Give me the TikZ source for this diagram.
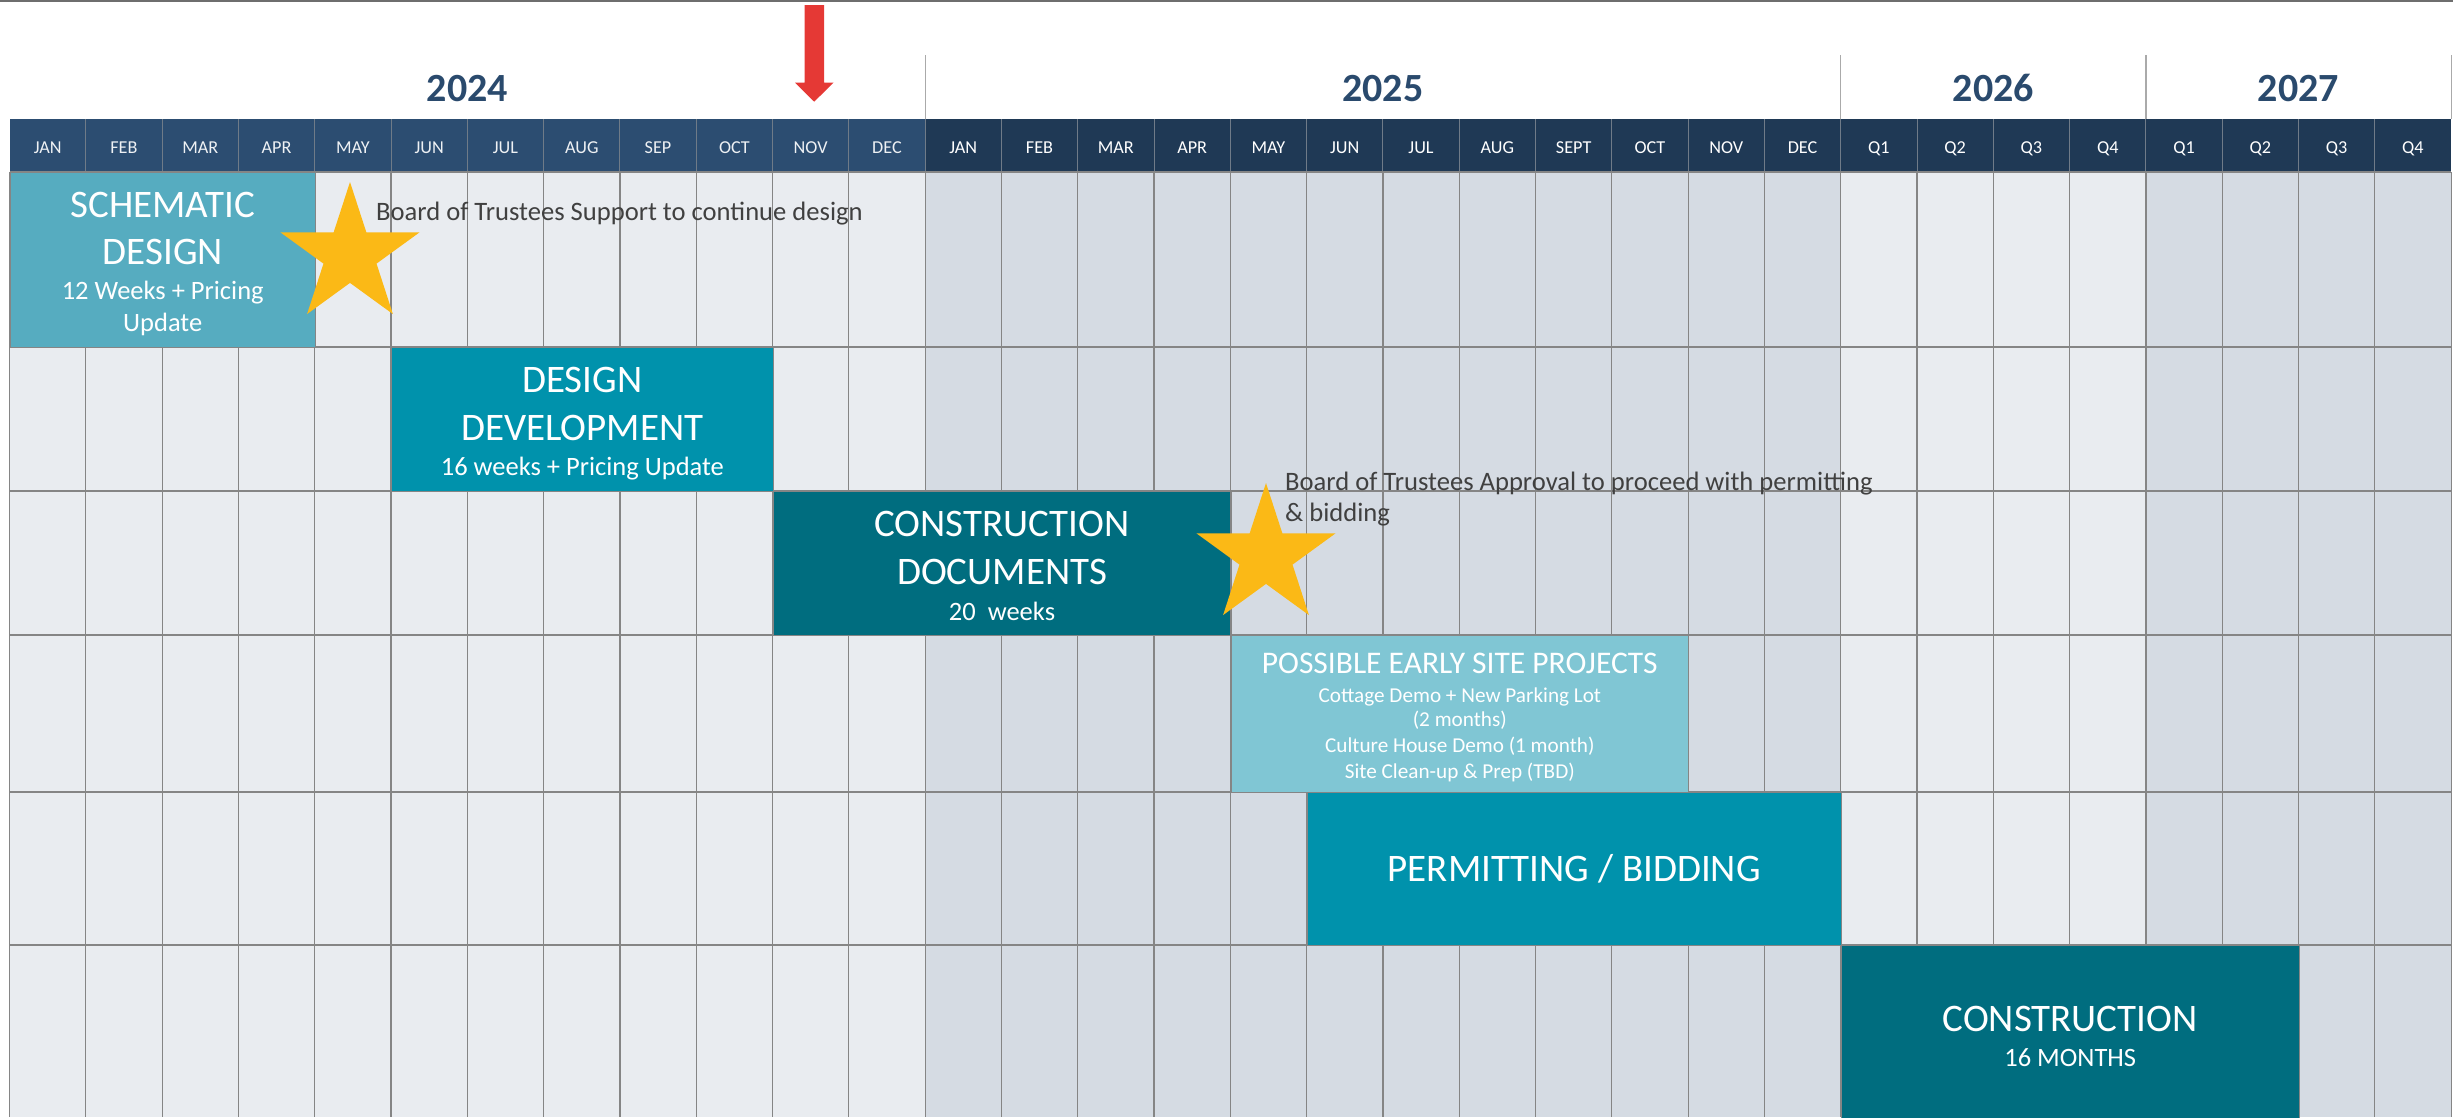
\documentclass[tikz,border=0pt]{standalone}
\usepackage{fontspec}
\setmainfont{Carlito}
\usetikzlibrary{shapes.geometric}

\definecolor{hdrA}{HTML}{2C4D71}
\definecolor{hdrB}{HTML}{1F3955}
\definecolor{cellA}{HTML}{E9ECF0}
\definecolor{cellB}{HTML}{D5DBE3}
\definecolor{gridc}{HTML}{858585}
\definecolor{hdrline}{HTML}{6F7B88}
\definecolor{yearc}{HTML}{2A4A6D}
\definecolor{barSD}{HTML}{56ACC0}
\definecolor{barDD}{HTML}{0092AC}
\definecolor{barCD}{HTML}{006D7F}
\definecolor{barES}{HTML}{80C6D4}
\definecolor{starc}{HTML}{FBB916}
\definecolor{arrowc}{HTML}{E53935}
\definecolor{notec}{HTML}{404040}
\definecolor{topc}{HTML}{6E6E6E}

\begin{document}
\begin{tikzpicture}[x=1pt,y=-1pt,
  bar/.style={rectangle, draw=gridc, line width=1.2pt, inner sep=0pt, anchor=north west},
  bigtxt/.style={text=white, anchor=base, inner sep=0pt, font=\fontsize{39}{46}\selectfont},
  subtxt/.style={text=white, anchor=base, inner sep=0pt, font=\fontsize{26.5}{32}\selectfont},
  esttl/.style={text=white, anchor=base, inner sep=0pt, font=\fontsize{31.5}{36}\selectfont},
  essub/.style={text=white, anchor=base, inner sep=0pt, font=\fontsize{21.2}{25}\selectfont},
  monthtxt/.style={text=white, anchor=base, inner sep=0pt, font=\fontsize{18.2}{22}\selectfont},
  yeartxt/.style={text=yearc, anchor=base, inner sep=0pt, font=\fontsize{40}{46}\selectfont\bfseries},
  notetxt/.style={text=notec, anchor=base west, inner sep=0pt, font=\fontsize{26.6}{32}\selectfont},
  starmark/.style={star, star points=5, star point ratio=2.618, minimum size=146pt, inner sep=0pt, fill=starc, draw=none},
  gridline/.style={draw=gridc, line width=1.2pt},
  rowline/.style={draw=gridc, line width=1.6pt},
  hdrsep/.style={draw=hdrline, line width=1pt},
  yearsep/.style={draw=gridc!70, line width=1.2pt}
]
\useasboundingbox (0,0) rectangle (2453,1117);
\def\xo{9.5}
\def\cw{76.3}

% body cells, shaded per year
\fill[cellA] (\xo,172) rectangle ({\xo+12*\cw},1117);
\fill[cellB] ({\xo+12*\cw},172) rectangle ({\xo+24*\cw},1117);
\fill[cellA] ({\xo+24*\cw},172) rectangle ({\xo+28*\cw},1117);
\fill[cellB] ({\xo+28*\cw},172) rectangle ({\xo+32*\cw},1117);

% grid
\foreach \i in {0,...,32} \draw[gridline] ({\xo+\i*\cw},172) -- ({\xo+\i*\cw},1117);
\foreach \y in {347,491,635,792,945} \draw[rowline] (\xo,\y) -- ({\xo+32*\cw},\y);

% header band
\fill[hdrA] (\xo,119) rectangle ({\xo+12*\cw},172);
\fill[hdrB] ({\xo+12*\cw},119) rectangle ({\xo+32*\cw},172);
\foreach \i in {1,...,31} \draw[hdrsep] ({\xo+\i*\cw},119) -- ({\xo+\i*\cw},172);
\draw[rowline] (\xo,172) -- ({\xo+32*\cw},172);

\foreach \m [count=\i from 0] in {JAN,FEB,MAR,APR,MAY,JUN,JUL,AUG,SEP,OCT,NOV,DEC}
  \node[monthtxt, text=white!92!hdrA] (ma\i) at ({\xo+(\i+0.5)*\cw},153.3) {\m};
\foreach \m [count=\i from 12] in {JAN,FEB,MAR,APR,MAY,JUN,JUL,AUG,SEPT,OCT,NOV,DEC,Q1,Q2,Q3,Q4,Q1,Q2,Q3,Q4}
  \node[monthtxt] (mb\i) at ({\xo+(\i+0.5)*\cw},153.3) {\m};

% year captions
\foreach \i in {12,24,28,32} \draw[yearsep] ({\xo+\i*\cw},55) -- ({\xo+\i*\cw},119);
\node[yeartxt] (y2024) at ({\xo+6*\cw},101) {2024};
\node[yeartxt] (y2025) at ({\xo+18*\cw},101) {2025};
\node[yeartxt] (y2026) at ({\xo+26*\cw},101) {2026};
\node[yeartxt] (y2027) at ({\xo+30*\cw},101) {2027};

% phase bars
\node[bar, fill=barSD, minimum width={4*\cw*1pt}, minimum height=175pt] (sd) at (\xo,172) {};
\node[bar, fill=barDD, minimum width={5*\cw*1pt}, minimum height=144pt] (dd) at ({\xo+5*\cw},347) {};
\node[bar, fill=barCD, minimum width={6*\cw*1pt}, minimum height=144pt] (cd) at ({\xo+10*\cw},491) {};
\node[bar, fill=barES, minimum width={6*\cw*1pt}, minimum height=157pt] (es) at ({\xo+16*\cw},635) {};
\node[bar, fill=barDD, minimum width={7*\cw*1pt}, minimum height=153pt] (pb) at ({\xo+17*\cw},792) {};
\node[bar, fill=barCD, minimum width={6*\cw*1pt}, minimum height=190pt] (co) at ({\xo+24*\cw},945) {};

% bar captions
\node[bigtxt] (sd1) at (sd.north |- 0,217) {SCHEMATIC};
\node[bigtxt] (sd2) at (sd.north |- 0,264) {DESIGN};
\node[subtxt] (sd3) at (sd.north |- 0,299) {12 Weeks + Pricing};
\node[subtxt] (sd4) at (sd.north |- 0,331) {Update};

\node[bigtxt] (dd1) at (dd.north |- 0,392) {DESIGN};
\node[bigtxt] (dd2) at (dd.north |- 0,440) {DEVELOPMENT};
\node[subtxt] (dd3) at (dd.north |- 0,475) {16 weeks + Pricing Update};

\node[bigtxt] (cd1) at (cd.north |- 0,536.5) {CONSTRUCTION};
\node[bigtxt] (cd2) at (cd.north |- 0,584) {DOCUMENTS};
\node[subtxt] (cd3) at (cd.north |- 0,620) {20\ \ weeks};

\node[esttl] (es1) at (es.north |- 0,673) {POSSIBLE EARLY SITE PROJECTS};
\node[essub] (es2) at (es.north |- 0,702) {Cottage Demo + New Parking Lot};
\node[essub] (es3) at (es.north |- 0,726) {(2 months)};
\node[essub] (es4) at (es.north |- 0,752) {Culture House Demo (1 month)};
\node[essub] (es5) at (es.north |- 0,778) {Site Clean-up \& Prep (TBD)};

\node[bigtxt] (pb1) at (pb.north |- 0,881) {PERMITTING / BIDDING};

\node[bigtxt] (co1) at (co.north |- 0,1031) {CONSTRUCTION};
\node[subtxt] (co2) at (co.north |- 0,1066) {16 MONTHS};

% milestones
\node[starmark] (st1) at (350,255) {};
\node[starmark] (st2) at (1266,556) {};
\node[notetxt] (n1) at (376,220) {Board of Trustees Support to continue design};
\node[notetxt] (n2a) at (1285,490.5) {Board of Trustees Approval to proceed with permitting};
\node[notetxt] (n2b) at (1285,521.5) {\& bidding};

% current-month marker
\fill[arrowc] (804.5,5) -- (824,5) -- (824,82.7) -- (833.5,82.7) -- (814.2,101.7)
  -- (795,82.7) -- (804.5,82.7) -- cycle;

% top rule
\draw[topc, line width=2.5pt] (0,1.2) -- (2453,1.2);
\end{tikzpicture}
\end{document}
